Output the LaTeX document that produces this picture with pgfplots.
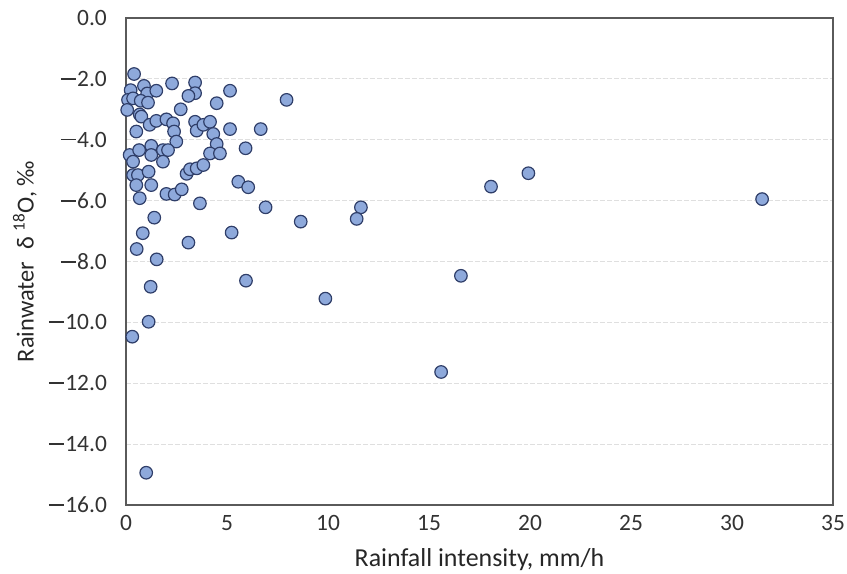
\documentclass[border=0pt]{standalone}
\usepackage{fontspec}
\setmainfont{Carlito}
\usepackage{pgfplots}
\pgfplotsset{compat=1.18}
\definecolor{mfill}{RGB}{142,169,219}
\definecolor{medge}{RGB}{47,62,105}
\definecolor{axc}{RGB}{90,90,90}
\newcommand\mn{\rule[0.29em]{0.66em}{0.07em}\hspace{0.04em}}
\begin{document}
\begin{tikzpicture}
\begin{axis}[
  name=ax,
  width=707bp, height=487bp, scale only axis,
  xmin=0, xmax=35, ymin=-16, ymax=0,
  xtick={0,5,...,35},
  ytick={-16,-14,...,0},
  yticklabels={\mn16.0,\mn14.0,\mn12.0,\mn10.0,\mn8.0,\mn6.0,\mn4.0,\mn2.0,0.0},
  /pgf/number format/assume math mode=true,
  major tick length=0pt,
  axis line style={axc, line width=1.3pt},
  ymajorgrids=true,
  grid style={gray!25, line width=1pt, dash pattern=on 5pt off 2pt},
  tick label style={font=\fontsize{23.5}{27}\selectfont, text=black!80, inner sep=1pt},
  xticklabel style={yshift=-9pt},
  yticklabel style={xshift=-18pt},
  xlabel={Rainfall intensity, mm/h},
  ylabel={Rainwater\enspace δ \textsuperscript{18}O, ‰},
  label style={text=black!85, inner sep=2pt},
  xlabel style={font=\fontsize{26}{30}\selectfont, at={(axis description cs:0.5,-0.113)}, anchor=center},
  ylabel style={font=\fontsize{24.5}{29}\selectfont, at={(axis description cs:-0.143,0.5)}, anchor=center},
]
\addplot[only marks, mark=*, mark size=6.3pt,
  mark options={fill=mfill, draw=medge, line width=1.2pt}]
table {
x y
0.40 -1.84
0.23 -2.37
0.89 -2.23
1.05 -2.48
1.50 -2.39
2.28 -2.15
3.42 -2.12
3.42 -2.47
3.09 -2.56
5.15 -2.39
7.95 -2.69
4.49 -2.80
2.71 -3.00
0.10 -2.69
0.35 -2.64
0.73 -2.72
1.09 -2.78
0.06 -3.02
0.68 -3.17
0.76 -3.24
0.51 -3.73
1.17 -3.51
1.50 -3.38
2.00 -3.33
2.33 -3.46
2.38 -3.73
2.49 -4.06
3.42 -3.41
3.50 -3.70
3.83 -3.51
4.16 -3.41
4.32 -3.81
5.15 -3.65
6.67 -3.65
4.49 -4.14
4.16 -4.45
4.65 -4.45
5.92 -4.28
0.18 -4.50
0.35 -4.72
0.65 -4.34
1.25 -4.20
1.25 -4.50
1.83 -4.34
2.08 -4.34
1.83 -4.72
0.35 -5.16
0.59 -5.16
1.12 -5.05
0.51 -5.49
1.25 -5.49
0.68 -5.92
2.00 -5.78
2.41 -5.80
2.76 -5.63
3.00 -5.12
3.17 -4.97
3.50 -4.94
3.83 -4.83
3.66 -6.09
5.56 -5.38
6.05 -5.56
6.91 -6.22
8.65 -6.69
11.63 -6.22
11.42 -6.60
18.07 -5.54
19.92 -5.10
31.49 -5.95
1.40 -6.56
0.83 -7.07
5.23 -7.05
3.09 -7.38
0.53 -7.59
1.52 -7.93
5.94 -8.63
1.22 -8.83
1.12 -9.98
0.31 -10.47
1.00 -14.94
9.87 -9.22
16.58 -8.47
15.60 -11.63
};
\end{axis}
\path (ax.south west) ++(-126bp,-69bp);
\path (ax.north east) ++(14bp,18bp);
\end{tikzpicture}
\end{document}
